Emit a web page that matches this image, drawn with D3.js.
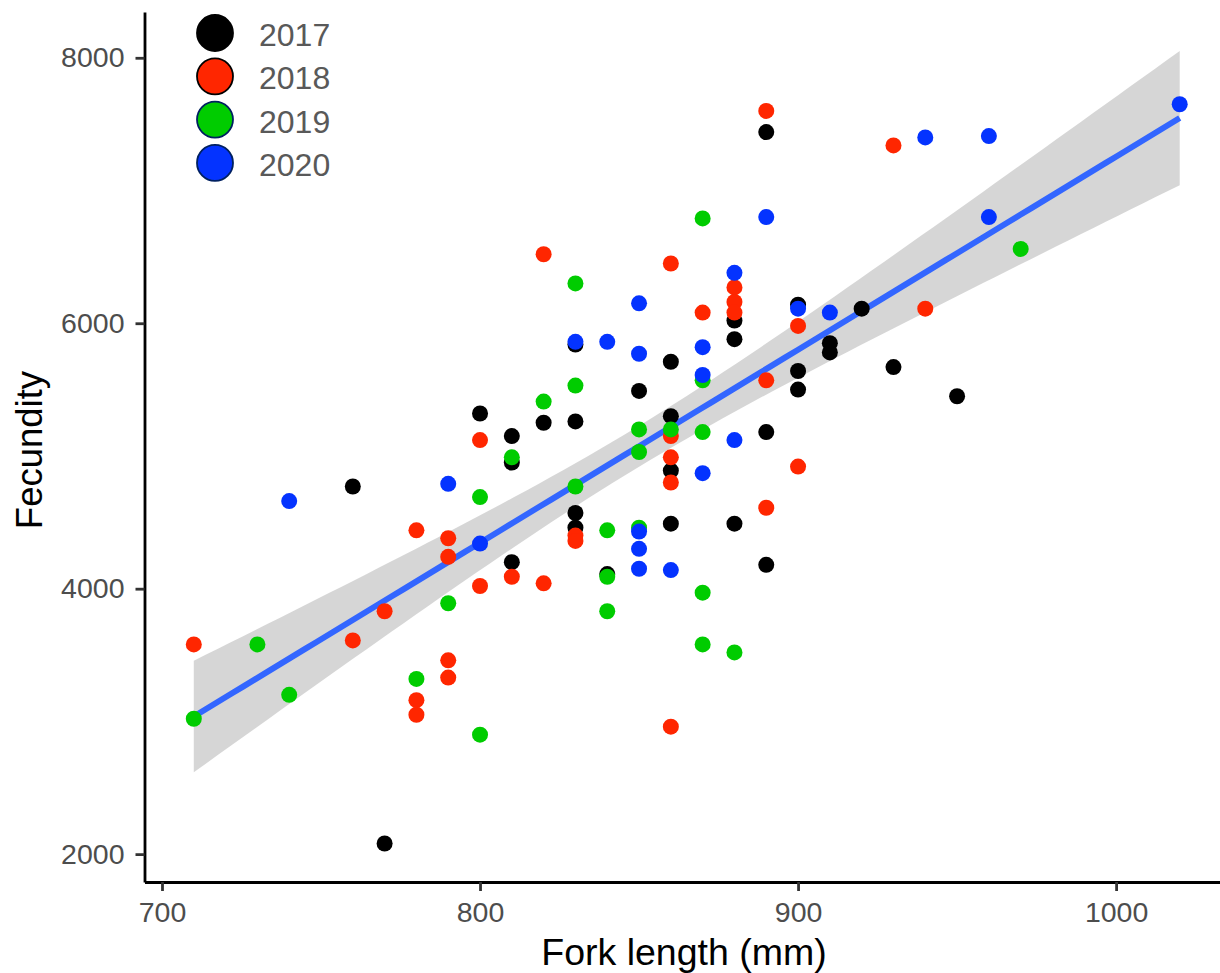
<!DOCTYPE html>
<html>
<head>
<meta charset="utf-8">
<script src="https://cdn.jsdelivr.net/npm/d3@7"></script>
<style>
  body { margin: 0; background: white; }
  svg { display: block; font-family: "Liberation Sans", Arial, sans-serif; }
</style>
</head>
<body>
<div id="chart"></div>
<script>
// Fecundity vs fork length, coloured by sampling year, with lm fit + 95% CI

const years = ["2017", "2018", "2019", "2020"];
const yearFill = ["#000000", "#FF2600", "#00CC00", "#0433FF"];
const yearStroke = ["#000000", "#000000", "#002060", "#002060"];

// [fork length (mm), fecundity]
const fish2017 = [[760,4770],[770,2080],[800,5320],[810,5150],[810,4950],[810,4200],[820,5250],
  [830,5840],[830,5260],[830,4570],[830,4460],[840,4110],[850,5490],[860,5710],[860,5300],
  [860,4890],[860,4490],[880,6020],[880,5880],[880,4490],[890,7440],[890,5180],[890,4180],
  [900,6140],[900,5640],[900,5500],[910,5850],[910,5780],[920,6110],[930,5670],[950,5450]];
const fish2018 = [[710,3580],[760,3610],[770,3830],[780,4440],[780,3160],[780,3050],[790,4380],
  [790,4240],[790,3460],[790,3330],[800,5120],[800,4020],[810,4090],[820,6520],[820,4040],
  [830,4400],[830,4360],[860,6450],[860,5150],[860,4990],[860,4800],[860,2960],[870,6080],
  [880,6270],[880,6160],[880,6080],[890,7600],[890,5570],[890,4610],[900,5980],[900,4920],
  [930,7340],[940,6110]];
const fish2019 = [[710,3020],[730,3580],[740,3200],[780,3320],[790,3890],[800,4690],[800,2900],
  [810,4990],[820,5410],[830,6300],[830,5530],[830,4770],[840,4440],[840,4090],[840,3830],
  [850,5200],[850,5030],[850,4460],[860,5200],[870,6790],[870,5570],[870,5180],[870,3970],
  [870,3580],[880,3520],[970,6560]];
const fish2020 = [[740,4660],[790,4790],[800,4340],[830,5860],[840,5860],[850,6150],[850,5770],
  [850,4430],[850,4300],[850,4150],[860,4140],[870,5820],[870,5610],[870,4870],[880,6380],
  [880,5120],[890,6800],[900,6110],[910,6080],[940,7400],[960,7410],[960,6800],[1020,7650]];

const xTicks = [700, 800, 900, 1000];
const yTicks = [2000, 4000, 6000, 8000];

const width = 1220, height = 973;
const panelLeft = 144.5, panelRight = 1229, panelTop = 12, panelBottom = 882;

const allFish = [fish2017, fish2018, fish2019, fish2020]
  .flatMap((arr, i) => arr.map(d => ({len: d[0], fec: d[1], yi: i})));

// Linear model + 95% confidence band
const n = allFish.length;
const xbar = d3.mean(allFish, d => d.len);
const ybar = d3.mean(allFish, d => d.fec);
const sxx = d3.sum(allFish, d => (d.len - xbar) ** 2);
const sxy = d3.sum(allFish, d => (d.len - xbar) * (d.fec - ybar));
const slope = sxy / sxx;
const icept = ybar - slope * xbar;
const sRes = Math.sqrt(d3.sum(allFish, d => (d.fec - icept - slope * d.len) ** 2) / (n - 2));
const tCrit = 1.98;
const [xmin, xmax] = d3.extent(allFish, d => d.len);
const fit = d3.range(0, 81).map(i => {
  const xv = xmin + (xmax - xmin) * i / 80;
  const yv = icept + slope * xv;
  const se = sRes * Math.sqrt(1 / n + (xv - xbar) ** 2 / sxx);
  return {x: xv, y: yv, lo: yv - tCrit * se, hi: yv + tCrit * se};
});

const x = d3.scaleLinear().domain([694.5, 1035.5]).range([panelLeft, panelRight]);
const y = d3.scaleLinear().domain([1790, 8345]).range([panelBottom, panelTop]);

const svg = d3.select("#chart")
  .append("svg")
  .attr("width", width)
  .attr("height", height);

// ribbon
svg.append("path")
  .datum(fit)
  .attr("fill", "#999999")
  .attr("fill-opacity", 0.4)
  .attr("d", d3.area().x(d => x(d.x)).y0(d => y(d.lo)).y1(d => y(d.hi)));

// fitted line
svg.append("path")
  .datum(fit)
  .attr("fill", "none")
  .attr("stroke", "#3366FF")
  .attr("stroke-width", 6)
  .attr("d", d3.line().x(d => x(d.x)).y(d => y(d.y)));

// points
svg.append("g")
  .selectAll("circle")
  .data(allFish)
  .join("circle")
    .attr("cx", d => x(d.len))
    .attr("cy", d => y(d.fec))
    .attr("r", 8)
    .attr("fill", d => yearFill[d.yi]);

// axes
const xAxis = svg.append("g")
  .attr("transform", `translate(0,${panelBottom})`)
  .call(d3.axisBottom(x).tickValues(xTicks).tickFormat(d3.format("d"))
    .tickSize(9).tickSizeOuter(0).tickPadding(10));
const yAxis = svg.append("g")
  .attr("transform", `translate(${panelLeft},0)`)
  .call(d3.axisLeft(y).tickValues(yTicks).tickFormat(d3.format("d"))
    .tickSize(9).tickSizeOuter(0).tickPadding(11));

[xAxis, yAxis].forEach(g => {
  g.select(".domain").attr("stroke", "#000").attr("stroke-width", 2.8);
  g.selectAll(".tick line").attr("stroke", "#333").attr("stroke-width", 2.8);
  g.selectAll(".tick text")
    .attr("fill", "#4D4D4D")
    .style("font-size", "28.5px")
    .style("font-family", "Liberation Sans, Arial, sans-serif");
});
xAxis.selectAll(".tick text").attr("dy", null).attr("y", 40);

// axis titles
svg.append("text")
  .attr("x", 684)
  .attr("y", 965)
  .attr("text-anchor", "middle")
  .attr("font-size", "37.5px")
  .attr("fill", "#000")
  .text("Fork length (mm)");

svg.append("text")
  .attr("transform", "translate(42,450) rotate(-90)")
  .attr("text-anchor", "middle")
  .attr("font-size", "36.5px")
  .attr("fill", "#000")
  .text("Fecundity");

// legend
const legend = svg.append("g")
  .selectAll("g")
  .data(years)
  .join("g")
    .attr("transform", (d, i) => `translate(215,${33 + i * 43.3})`);
legend.append("circle")
  .attr("r", 18)
  .attr("fill", (d, i) => yearFill[i])
  .attr("stroke", (d, i) => yearStroke[i])
  .attr("stroke-width", 1.8);
legend.append("text")
  .attr("x", 44)
  .attr("y", 13)
  .attr("font-size", "32px")
  .attr("fill", "#595959")
  .text(d => d);
</script>
</body>
</html>
